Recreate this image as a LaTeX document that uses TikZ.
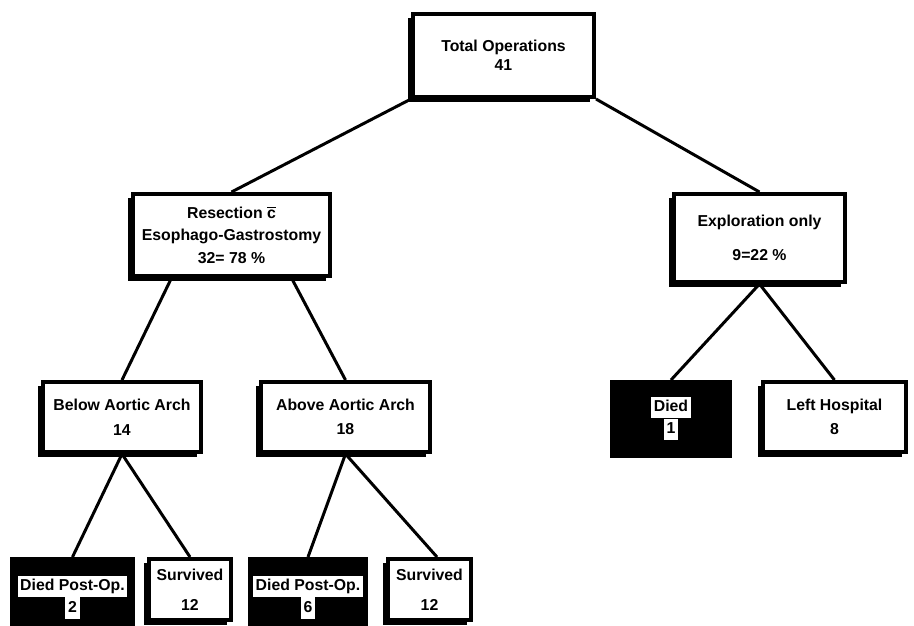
\documentclass[tikz,border=0pt]{standalone}
\usepackage{fontspec}
\setmainfont{Liberation Sans}
\usetikzlibrary{positioning}
\usetikzlibrary{shadows}
\tikzset{
    boxnode/.style = {align=center, inner sep=0pt, text centered, font=\fontsize{9}{11}\selectfont\bfseries},
    white_box/.style = {boxnode, rectangle, draw=black, fill=white, line width=2pt,
        drop shadow={shadow xshift=-2.5pt, shadow yshift=-2.5pt, opacity=1, fill=black}},
    black_box/.style = {boxnode, rectangle, draw=black, fill=black, line width=2pt},
    patch/.style = {boxnode, fill=white, inner xsep=1.5pt, inner ysep=1.5pt, text height=7pt, text depth=2pt},
    branch/.style = {line width=1.7pt}
}

\begin{document}
\begin{tikzpicture}[x=0.02cm, y=-0.02cm]
    \path [use as bounding box, fill=white] (0,0) rectangle (914,626);

    \node [white_box, minimum width=3.63cm, minimum height=1.67cm] (total) at (503.5,55.5) {Total Operations\\41};

    \node [white_box, minimum width=3.95cm, minimum height=1.65cm] (resect) at (231.5,235) {Resection $\overline{\hbox{c}}$\\[2pt]Esophago-Gastrostomy\\[2pt]32= 78 \%};
    \node [white_box, minimum width=3.43cm, minimum height=1.77cm] (explor) at (759.5,238) {Exploration only\\[8pt]9=22 \%};

    \node [white_box, minimum width=3.17cm, minimum height=1.41cm] (below) at (122,417) {Below Aortic Arch\\[3pt]14};
    \node [white_box, minimum width=3.39cm, minimum height=1.41cm] (above) at (345.5,417) {Above Aortic Arch\\[3pt]18};
    \node [black_box, minimum width=2.37cm, minimum height=1.49cm] (died_a) at (671,419) {};
    \node [white_box, minimum width=2.87cm, minimum height=1.41cm] (left_h) at (834.5,417) {Left Hospital\\[3pt]8};

    \node [black_box, minimum width=2.43cm, minimum height=1.31cm] (died_b) at (72.5,591.5) {};
    \node [white_box, minimum width=1.65cm, minimum height=1.23cm] (surv_b) at (190,589.5) {Survived\\[6pt]12};
    \node [black_box, minimum width=2.33cm, minimum height=1.31cm] (died_c) at (308,591.5) {};
    \node [white_box, minimum width=1.67cm, minimum height=1.23cm] (surv_c) at (429.5,589.5) {Survived\\[6pt]12};

    \node [patch] (died_a_txt) at ([yshift=6.5pt]died_a.center) {Died};
    \node [patch, below=0pt of died_a_txt] (died_a_num) {1};
    \node [patch] (died_b_txt) at ([yshift=3pt]died_b.center) {Died Post-Op.};
    \node [patch, below=0pt of died_b_txt] (died_b_num) {2};
    \node [patch] (died_c_txt) at ([yshift=3pt]died_c.center) {Died Post-Op.};
    \node [patch, below=0pt of died_c_txt] (died_c_num) {6};

    \draw [branch] (total.south west) -- (resect.north);
    \draw [branch] (total.south east) -- (explor.north);
    \draw [branch] ([xshift=-1.2cm]resect.south) -- (below.north);
    \draw [branch] ([xshift=1.2cm]resect.south) -- (above.north);
    \draw [branch] (died_a.north) -- (explor.south) -- (left_h.north);
    \draw [branch] (died_b.north) -- (below.south) -- (surv_b.north);
    \draw [branch] (died_c.north) -- (above.south) -- ([xshift=0.15cm]surv_c.north);
\end{tikzpicture}
\end{document}
